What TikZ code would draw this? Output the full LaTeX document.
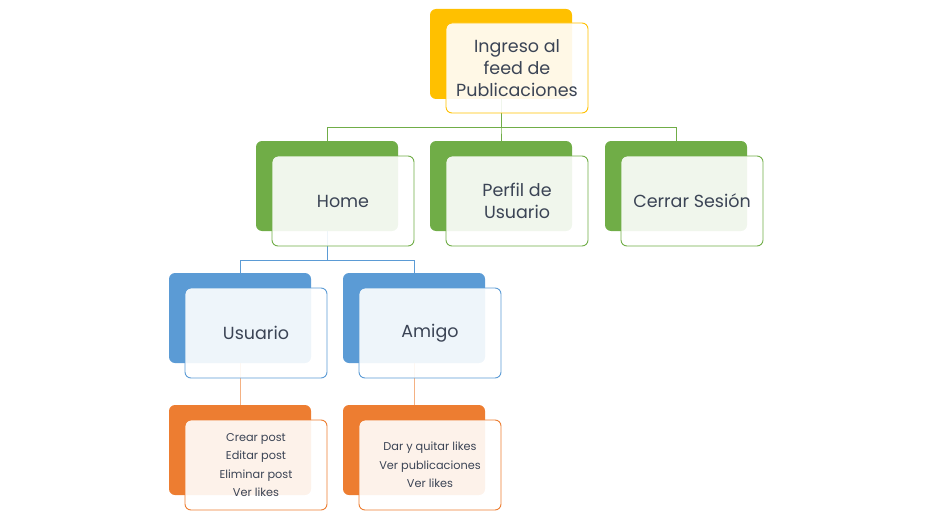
\documentclass[tikz,border=0pt]{standalone}
\usepackage{fontspec}
\setmainfont{Poppins}
\usetikzlibrary{backgrounds}
\definecolor{cYel}{HTML}{FFC000}
\definecolor{cGrn}{HTML}{70AD47}
\definecolor{cBlu}{HTML}{5B9BD5}
\definecolor{cOrg}{HTML}{ED7D31}
\definecolor{cTxt}{HTML}{3B4455}
\begin{document}
\begin{tikzpicture}[x=1pt,y=-1pt,
  backbox/.style={draw=none,fill=#1,rounded corners=6pt,minimum width=142pt,minimum height=90pt,inner sep=0pt},
  frontbox/.style={draw=#1,line width=0.9pt,fill=white,fill opacity=0.9,text opacity=1,rounded corners=6pt,minimum width=142pt,minimum height=90pt,inner sep=0pt,text=cTxt,align=center,font=\fontsize{17.5}{22}\selectfont},
  detail/.style={font=\fontsize{11.3}{18.5}\selectfont},
  conn/.style={draw=#1,line width=0.8pt}]
\useasboundingbox (0,0) rectangle (928,524);
\coordinate (bus1) at (0,127);
\coordinate (bus2) at (0,260);
% back boxes
\node[backbox=cYel] (topb) at (501,54) {};
\node[backbox=cGrn] (homeb) at (327,186) {};
\node[backbox=cGrn] (perfb) at (501,186) {};
\node[backbox=cGrn] (cerrb) at (676,186) {};
\node[backbox=cBlu] (usub) at (240,318) {};
\node[backbox=cBlu] (amib) at (414,318) {};
\node[backbox=cOrg] (udetb) at (240,450) {};
\node[backbox=cOrg] (adetb) at (414,450) {};
% front boxes
\node[frontbox=cYel] (top) at (517,68) {Ingreso al\\feed de\\Publicaciones};
\node[frontbox=cGrn] (home) at (343,201) {Home};
\node[frontbox=cGrn] (perf) at (517,201) {Perfil de\\Usuario};
\node[frontbox=cGrn] (cerr) at (692,201) {Cerrar Sesión};
\node[frontbox=cBlu] (usu) at (256,333) {Usuario};
\node[frontbox=cBlu] (ami) at (430,333) {Amigo};
\node[frontbox=cOrg,detail] (udet) at (256,465) {Crear post\\Editar post\\Eliminar post\\Ver likes};
\node[frontbox=cOrg,detail] (adet) at (430,465) {Dar y quitar likes\\Ver publicaciones\\Ver likes};
% connectors behind everything
\begin{scope}[on background layer]
\draw[conn=cGrn] (topb.south) -- (topb.south |- bus1) -| (homeb.north);
\draw[conn=cGrn] (topb.south) -- (topb.south |- bus1) -| (perfb.north);
\draw[conn=cGrn] (topb.south) -- (topb.south |- bus1) -| (cerrb.north);
\draw[conn=cBlu] (homeb.south) -- (homeb.south |- bus2) -| (usub.north);
\draw[conn=cBlu] (homeb.south) -- (homeb.south |- bus2) -| (amib.north);
\draw[conn=cOrg!60] (usub.south) -- (udetb.north);
\draw[conn=cOrg!60] (amib.south) -- (adetb.north);
\end{scope}
\end{tikzpicture}
\end{document}
